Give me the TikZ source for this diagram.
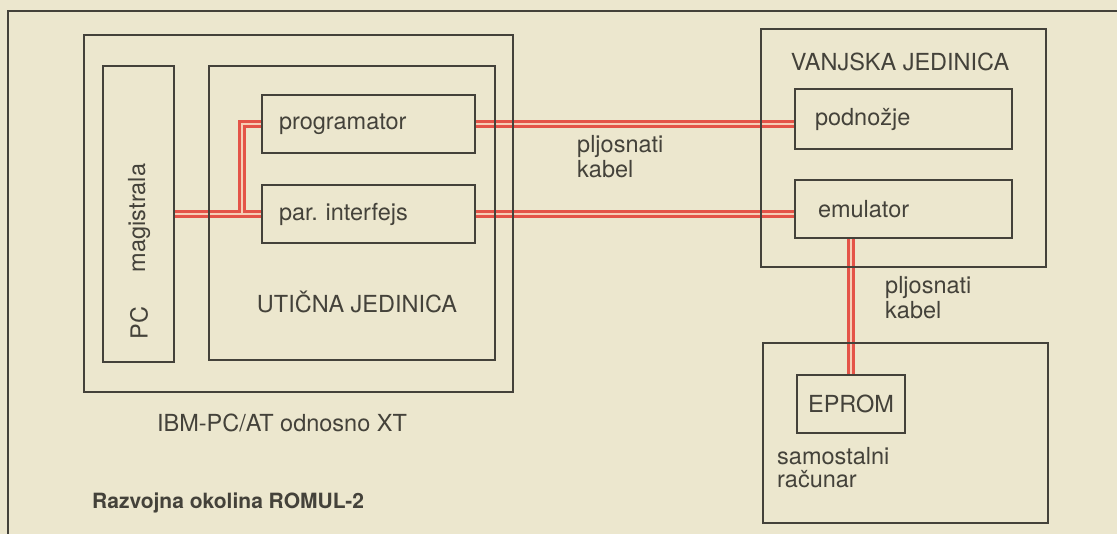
\documentclass[tikz,border=0pt]{standalone}
\usepackage{fontspec}
\setmainfont{TeX Gyre Heros}
\usetikzlibrary{backgrounds}
\definecolor{bg}{RGB}{236,231,206}
\definecolor{ink}{RGB}{68,66,58}
\definecolor{cabred}{RGB}{228,84,72}
\definecolor{cabin}{RGB}{246,206,182}
\tikzset{
  box/.style={draw=ink, line width=2.8pt, inner sep=0pt, outer sep=0pt, anchor=north west},
  txt/.style={text=ink, inner sep=0pt, font=\fontsize{23.5}{25}\selectfont},
  cabout/.style={draw=cabred, line width=7.5pt},
  cabinn/.style={draw=cabin, line width=1.8pt},
}
\newcommand\cablepaths{(mag.east) -- (par.west)
  (j) |- (prog.west)
  (prog.east) -- (prog.east -| pod.west)
  (par.east) -- (par.east -| emu.west)
  (eprom.north) -- (eprom.north |- emu.south)}
\begin{document}
\frenchspacing
\begin{tikzpicture}[x=1pt,y=-1pt]
\useasboundingbox (0,0) rectangle (1117,534);
% frame
\draw[ink, line width=2.8pt] (8,540) -- (8,11) -- (1120,11);
% boxes
\node[box, minimum width=429, minimum height=357] (ibm) at (84,35) {};
\node[box, minimum width=71, minimum height=296] (mag) at (103,66) {};
\node[box, minimum width=286, minimum height=294] (utic) at (209,66) {};
\node[box, txt, minimum height=58, text width=179, inner xsep=17, align=left] (prog) at (262,95) {programator};
\node[box, txt, minimum height=58, text width=179, inner xsep=17, align=left] (par) at (262,185) {par. interfejs};
\node[box, minimum width=285, minimum height=238] (van) at (761,29) {};
\node[box, txt, minimum height=60, text width=177, inner xsep=20, align=left] (pod) at (795,89) {podnožje};
\node[box, txt, minimum height=58, text width=171, inner xsep=23, align=left] (emu) at (795,180) {emulator};
\node[box, minimum width=285, minimum height=180] (sam) at (763,343) {};
\node[box, txt, minimum width=108, minimum height=58] (eprom) at (797,375) {EPROM};
\coordinate (j) at ([xshift=-20pt]par.west);
% labels
\node[txt, rotate=90] (magt) at (139,218) {magistrala};
\node[txt, rotate=90] (pct) at (139,323) {PC};
\node[txt] (uj) at (357,302) {UTIČNA JEDINICA};
\node[txt] (vj) at (900,62) {VANJSKA JEDINICA};
\node[txt] (ibmt) at (282,423) {IBM-PC/AT odnosno XT};
\node[txt, anchor=west, font=\fontsize{21}{23}\selectfont\bfseries] (rz) at (92,503) {Razvojna okolina ROMUL-2};
\node[txt, anchor=west, align=left] (pk1) at (577,157) {pljosnati\\kabel};
\node[txt, anchor=west, align=left] (pk2) at (885,298) {pljosnati\\kabel};
\node[txt, anchor=west, align=left, font=\fontsize{23.5}{23}\selectfont] (samt) at (777,468) {samostalni\\računar};
% background and cables
\begin{scope}[on background layer]
  \fill[bg] (0,0) rectangle (1117,534);
  \path[cabout] \cablepaths;
  \path[cabinn] \cablepaths;
\end{scope}
\end{tikzpicture}
\end{document}
